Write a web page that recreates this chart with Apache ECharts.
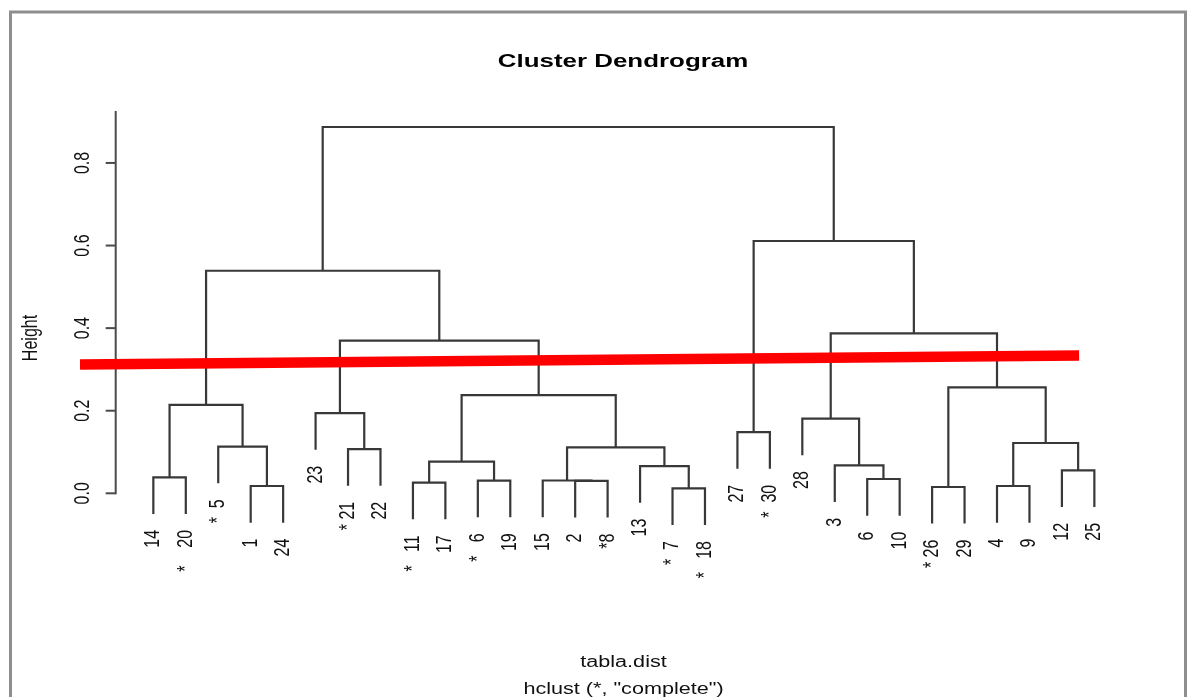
<!DOCTYPE html>
<html>
<head>
<meta charset="utf-8">
<script src="https://cdn.jsdelivr.net/npm/echarts@6/dist/echarts.min.js"></script>
<style>
  html, body { margin: 0; padding: 0; background: #ffffff; }
  #chart { width: 1189px; height: 697px; }
</style>
</head>
<body>
<div id="chart"></div>
<script>
// Leaf labels in dendrogram order, left to right, as printed under the tree
const leafLabels = ['14', '*    20', '*  5', '1', '24', '23', '* 21', '22', '*   11', '17',
                    '*   6', '19', '15', '2', '*8', '13', '*  7', '*   18', '27', '*  30',
                    '28', '3', '6', '10', '* 26', '29', '4', '9', '12', '25'];

// Agglomeration steps (hclust convention):
// negative = leaf at that position, positive = row of an earlier merge
const mergeLeft   = [-17, -25, -4, -27, -9, -14, -11, -13, -23, -1, -29, -16, -22, 5, -7,
                     8, -3, 4, -19, -21, -6, 10, 14, 2, 21, 20, 22, 19, 27];
const mergeRight  = [-18, -26, -5, -28, -10, -15, -12, 6, -24, -2, -30, 1, 9, 7, -8,
                     12, 3, 11, -20, 13, 15, 17, 16, 18, 23, 24, 25, 26, 28];
const mergeHeight = [0.012, 0.0153, 0.0177, 0.0177, 0.0257, 0.030, 0.0306, 0.031, 0.0346, 0.0387,
                     0.0557, 0.066, 0.0678, 0.0766, 0.107, 0.111, 0.113, 0.1218, 0.148, 0.181,
                     0.194, 0.214, 0.238, 0.2567, 0.3696, 0.3875, 0.539, 0.611, 0.887];

// Height axis
const yTicks = [0, 0.2, 0.4, 0.6, 0.8];
const yTickLabels = ['0.0', '0.2', '0.4', '0.6', '0.8'];

// Cut line drawn across the tree (x in leaf positions, y in height)
const cutX = [-1.26, 29.53];
const cutY = [0.312, 0.334];

const titleText = 'Cluster Dendrogram';
const xLabText = 'tabla.dist';
const subText = 'hclust (*, "complete")';
const yLabText = 'Height';

// ---- layout of the tree (hang = 0.1, as plot.hclust does) ----
const nLeaves = leafLabels.length;
const hang = 0.1 * Math.max(...mergeHeight);
const nodeX = [];
const leafEnd = new Array(nLeaves + 1);
const branchData = [];
mergeHeight.forEach((h, i) => {
  const L = mergeLeft[i], R = mergeRight[i];
  const xl = L < 0 ? -L : nodeX[L - 1];
  const hl = L < 0 ? h - hang : mergeHeight[L - 1];
  const xr = R < 0 ? -R : nodeX[R - 1];
  const hr = R < 0 ? h - hang : mergeHeight[R - 1];
  if (L < 0) leafEnd[-L] = h - hang;
  if (R < 0) leafEnd[-R] = h - hang;
  nodeX[i] = (xl + xr) / 2;
  branchData.push([xl, hl, xr, hr, h]);
});
const leafData = leafLabels.map((lab, i) => [i + 1, leafEnd[i + 1], i]);

// plot range extended by 4% on each side
const yLo = Math.min(...leafEnd.filter(v => v !== undefined));
const yHi = Math.max(...mergeHeight);
const yPad = 0.04 * (yHi - yLo);
const xPad = 0.04 * (nLeaves - 1);

const FONT = "'Liberation Sans', Arial, Helvetica, sans-serif";
const STRETCH = 1.35;
const INK = '#111111';

const chart = echarts.init(document.getElementById('chart'), null, { renderer: 'canvas' });

chart.setOption({
  animation: false,
  backgroundColor: '#ffffff',
  grid: { left: 115.7, right: 57, top: 111.1, bottom: 156.1 },
  xAxis: { type: 'value', min: 1 - xPad, max: nLeaves + xPad, show: false },
  yAxis: { type: 'value', min: yLo - yPad, max: yHi + yPad, show: false },
  graphic: [
    { type: 'rect', shape: { x: 10.5, y: 12, width: 1175, height: 720 },
      style: { fill: null, stroke: '#8e8e8e', lineWidth: 3 }, silent: true },
    { type: 'text', x: 623, y: 62, scaleX: STRETCH,
      style: { text: titleText, font: 'bold 19.2px ' + FONT, fill: '#000',
               textAlign: 'center', textVerticalAlign: 'middle', align: 'center', verticalAlign: 'middle' } },
    { type: 'text', x: 623.5, y: 663, scaleX: STRETCH,
      style: { text: xLabText, font: '16px ' + FONT, fill: INK,
               textAlign: 'center', textVerticalAlign: 'middle', align: 'center', verticalAlign: 'middle' } },
    { type: 'text', x: 623.5, y: 690, scaleX: STRETCH,
      style: { text: subText, font: '16px ' + FONT, fill: INK,
               textAlign: 'center', textVerticalAlign: 'middle', align: 'center', verticalAlign: 'middle' } },
    { type: 'text', x: 31, y: 338, rotation: Math.PI / 2, scaleY: STRETCH,
      style: { text: yLabText, font: '16px ' + FONT, fill: INK,
               textAlign: 'center', textVerticalAlign: 'middle', align: 'center', verticalAlign: 'middle' } }
  ],
  series: [
    {
      // tree branches: up from the left child, across, down to the right child
      name: 'branches', type: 'custom', clip: false, silent: true,
      data: branchData,
      renderItem: function (params, api) {
        const p1 = api.coord([api.value(0), api.value(1)]);
        const p2 = api.coord([api.value(0), api.value(4)]);
        const p3 = api.coord([api.value(2), api.value(4)]);
        const p4 = api.coord([api.value(2), api.value(3)]);
        return { type: 'polyline', shape: { points: [p1, p2, p3, p4] },
                 style: { stroke: '#383838', lineWidth: 2.2, fill: null } };
      }
    },
    {
      // leaf labels hanging under each leaf
      name: 'leaves', type: 'custom', clip: false, silent: true,
      data: leafData,
      renderItem: function (params, api) {
        const p = api.coord([api.value(0), api.value(1)]);
        return { type: 'text', x: p[0], y: p[1] + 16, rotation: Math.PI / 2, scaleY: STRETCH,
                 style: { text: leafLabels[api.value(2)], x: 0, y: 0, font: '16px ' + FONT, fill: INK,
                          textAlign: 'right', textVerticalAlign: 'middle', align: 'right', verticalAlign: 'middle' } };
      }
    },
    {
      // height axis: line from 0 to the top of the plot, ticks and labels
      name: 'heightAxis', type: 'custom', clip: false, silent: true,
      data: yTicks.map((v, i) => [v, i]),
      renderItem: function (params, api) {
        const xa = 1 - xPad;
        const p = api.coord([xa, api.value(0)]);
        const children = [
          { type: 'line', shape: { x1: p[0], y1: p[1], x2: p[0] - 10, y2: p[1] },
            style: { stroke: '#4a4a4a', lineWidth: 2 } },
          { type: 'text', x: p[0] - 33, y: p[1], rotation: Math.PI / 2, scaleY: STRETCH,
            style: { text: yTickLabels[api.value(1)], x: 0, y: 0, font: '16px ' + FONT, fill: INK,
                     textAlign: 'center', textVerticalAlign: 'middle', align: 'center', verticalAlign: 'middle' } }
        ];
        if (params.dataIndex === 0) {
          const top = api.coord([xa, yHi + yPad]);
          children.push({ type: 'line', shape: { x1: p[0], y1: p[1] + 1, x2: top[0], y2: top[1] },
                          style: { stroke: '#4a4a4a', lineWidth: 2 } });
        }
        return { type: 'group', children: children };
      }
    },
    {
      // cut line
      name: 'cut', type: 'custom', clip: false, silent: true,
      data: [[cutX[0], cutY[0], cutX[1], cutY[1]]],
      renderItem: function (params, api) {
        const a = api.coord([api.value(0), api.value(1)]);
        const b = api.coord([api.value(2), api.value(3)]);
        return { type: 'line', shape: { x1: a[0], y1: a[1], x2: b[0], y2: b[1] },
                 style: { stroke: '#ff0000', lineWidth: 10.5, lineCap: 'butt' } };
      }
    }
  ]
});
</script>
</body>
</html>
